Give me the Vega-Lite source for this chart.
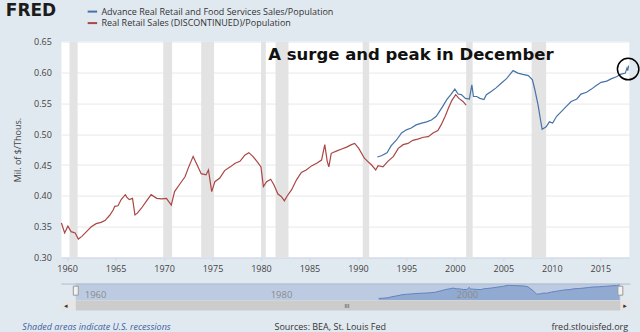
{
  "$schema": "https://vega.github.io/schema/vega-lite/v6.json",
  "background": "#e1e9f0",
  "padding": {"left": 5.4, "top": 1.6, "right": 0, "bottom": 0},
  "config": {"font": "Open Sans", "view": {"stroke": null}},
  "datasets": {
    "retail": [
      {"series":"rrs","date":"1959-06-01","value":0.356},
      {"series":"rrs","date":"1959-10-01","value":0.340},
      {"series":"rrs","date":"1960-02-01","value":0.351},
      {"series":"rrs","date":"1960-06-01","value":0.342},
      {"series":"rrs","date":"1960-11-01","value":0.340},
      {"series":"rrs","date":"1961-03-01","value":0.330},
      {"series":"rrs","date":"1961-07-01","value":0.334},
      {"series":"rrs","date":"1962-01-01","value":0.342},
      {"series":"rrs","date":"1962-07-01","value":0.350},
      {"series":"rrs","date":"1963-01-01","value":0.355},
      {"series":"rrs","date":"1963-07-01","value":0.357},
      {"series":"rrs","date":"1963-12-01","value":0.360},
      {"series":"rrs","date":"1964-06-01","value":0.369},
      {"series":"rrs","date":"1964-10-01","value":0.377},
      {"series":"rrs","date":"1964-12-01","value":0.383},
      {"series":"rrs","date":"1965-04-01","value":0.384},
      {"series":"rrs","date":"1965-08-01","value":0.394},
      {"series":"rrs","date":"1966-01-01","value":0.402},
      {"series":"rrs","date":"1966-03-01","value":0.398},
      {"series":"rrs","date":"1966-06-01","value":0.394},
      {"series":"rrs","date":"1966-10-01","value":0.396},
      {"series":"rrs","date":"1967-01-01","value":0.369},
      {"series":"rrs","date":"1967-04-01","value":0.372},
      {"series":"rrs","date":"1967-09-01","value":0.380},
      {"series":"rrs","date":"1968-03-01","value":0.391},
      {"series":"rrs","date":"1968-09-01","value":0.402},
      {"series":"rrs","date":"1969-04-01","value":0.396},
      {"series":"rrs","date":"1969-10-01","value":0.395},
      {"series":"rrs","date":"1970-04-01","value":0.396},
      {"series":"rrs","date":"1970-10-01","value":0.385},
      {"series":"rrs","date":"1971-02-01","value":0.407},
      {"series":"rrs","date":"1971-08-01","value":0.418},
      {"series":"rrs","date":"1972-03-01","value":0.431},
      {"series":"rrs","date":"1972-07-01","value":0.445},
      {"series":"rrs","date":"1973-01-01","value":0.464},
      {"series":"rrs","date":"1973-05-01","value":0.453},
      {"series":"rrs","date":"1973-11-01","value":0.436},
      {"series":"rrs","date":"1974-05-01","value":0.434},
      {"series":"rrs","date":"1974-08-01","value":0.442},
      {"series":"rrs","date":"1974-12-01","value":0.407},
      {"series":"rrs","date":"1975-04-01","value":0.423},
      {"series":"rrs","date":"1975-10-01","value":0.429},
      {"series":"rrs","date":"1976-04-01","value":0.441},
      {"series":"rrs","date":"1976-11-01","value":0.447},
      {"series":"rrs","date":"1977-05-01","value":0.453},
      {"series":"rrs","date":"1977-11-01","value":0.456},
      {"series":"rrs","date":"1978-05-01","value":0.466},
      {"series":"rrs","date":"1978-10-01","value":0.470},
      {"series":"rrs","date":"1979-03-01","value":0.464},
      {"series":"rrs","date":"1979-08-01","value":0.456},
      {"series":"rrs","date":"1980-01-01","value":0.447},
      {"series":"rrs","date":"1980-04-01","value":0.415},
      {"series":"rrs","date":"1980-08-01","value":0.423},
      {"series":"rrs","date":"1981-01-01","value":0.427},
      {"series":"rrs","date":"1981-05-01","value":0.418},
      {"series":"rrs","date":"1981-10-01","value":0.403},
      {"series":"rrs","date":"1982-02-01","value":0.399},
      {"series":"rrs","date":"1982-06-01","value":0.392},
      {"series":"rrs","date":"1982-09-01","value":0.399},
      {"series":"rrs","date":"1983-03-01","value":0.410},
      {"series":"rrs","date":"1983-09-01","value":0.426},
      {"series":"rrs","date":"1984-03-01","value":0.438},
      {"series":"rrs","date":"1984-09-01","value":0.442},
      {"series":"rrs","date":"1985-04-01","value":0.449},
      {"series":"rrs","date":"1985-10-01","value":0.453},
      {"series":"rrs","date":"1986-04-01","value":0.458},
      {"series":"rrs","date":"1986-08-01","value":0.483},
      {"series":"rrs","date":"1986-11-01","value":0.456},
      {"series":"rrs","date":"1987-01-01","value":0.447},
      {"series":"rrs","date":"1987-04-01","value":0.469},
      {"series":"rrs","date":"1987-11-01","value":0.473},
      {"series":"rrs","date":"1988-05-01","value":0.476},
      {"series":"rrs","date":"1988-11-01","value":0.479},
      {"series":"rrs","date":"1989-05-01","value":0.483},
      {"series":"rrs","date":"1989-09-01","value":0.485},
      {"series":"rrs","date":"1990-02-01","value":0.477},
      {"series":"rrs","date":"1990-09-01","value":0.461},
      {"series":"rrs","date":"1991-01-01","value":0.456},
      {"series":"rrs","date":"1991-06-01","value":0.450},
      {"series":"rrs","date":"1991-11-01","value":0.442},
      {"series":"rrs","date":"1992-02-01","value":0.449},
      {"series":"rrs","date":"1992-08-01","value":0.447},
      {"series":"rrs","date":"1993-02-01","value":0.456},
      {"series":"rrs","date":"1993-09-01","value":0.464},
      {"series":"rrs","date":"1994-03-01","value":0.477},
      {"series":"rrs","date":"1994-09-01","value":0.483},
      {"series":"rrs","date":"1995-03-01","value":0.485},
      {"series":"rrs","date":"1995-09-01","value":0.490},
      {"series":"rrs","date":"1996-03-01","value":0.492},
      {"series":"rrs","date":"1996-10-01","value":0.495},
      {"series":"rrs","date":"1997-04-01","value":0.496},
      {"series":"rrs","date":"1997-10-01","value":0.502},
      {"series":"rrs","date":"1998-04-01","value":0.506},
      {"series":"rrs","date":"1998-08-01","value":0.515},
      {"series":"rrs","date":"1999-01-01","value":0.529},
      {"series":"rrs","date":"1999-05-01","value":0.542},
      {"series":"rrs","date":"1999-09-01","value":0.554},
      {"series":"rrs","date":"2000-02-01","value":0.564},
      {"series":"rrs","date":"2000-06-01","value":0.558},
      {"series":"rrs","date":"2000-11-01","value":0.553},
      {"series":"rrs","date":"2001-03-01","value":0.547},
      {"series":"adv","date":"1992-01-01","value":0.463},
      {"series":"adv","date":"1992-06-01","value":0.465},
      {"series":"adv","date":"1993-01-01","value":0.470},
      {"series":"adv","date":"1993-06-01","value":0.481},
      {"series":"adv","date":"1994-01-01","value":0.491},
      {"series":"adv","date":"1994-07-01","value":0.502},
      {"series":"adv","date":"1995-01-01","value":0.507},
      {"series":"adv","date":"1995-07-01","value":0.510},
      {"series":"adv","date":"1996-01-01","value":0.515},
      {"series":"adv","date":"1996-08-01","value":0.518},
      {"series":"adv","date":"1997-02-01","value":0.520},
      {"series":"adv","date":"1997-08-01","value":0.523},
      {"series":"adv","date":"1998-02-01","value":0.529},
      {"series":"adv","date":"1998-06-01","value":0.537},
      {"series":"adv","date":"1998-10-01","value":0.545},
      {"series":"adv","date":"1999-03-01","value":0.556},
      {"series":"adv","date":"1999-08-01","value":0.564},
      {"series":"adv","date":"2000-01-01","value":0.573},
      {"series":"adv","date":"2000-05-01","value":0.565},
      {"series":"adv","date":"2000-09-01","value":0.564},
      {"series":"adv","date":"2001-02-01","value":0.558},
      {"series":"adv","date":"2001-07-01","value":0.557},
      {"series":"adv","date":"2001-10-01","value":0.580},
      {"series":"adv","date":"2001-12-01","value":0.561},
      {"series":"adv","date":"2002-04-01","value":0.561},
      {"series":"adv","date":"2002-08-01","value":0.558},
      {"series":"adv","date":"2003-01-01","value":0.556},
      {"series":"adv","date":"2003-04-01","value":0.564},
      {"series":"adv","date":"2003-10-01","value":0.569},
      {"series":"adv","date":"2004-04-01","value":0.575},
      {"series":"adv","date":"2004-10-01","value":0.582},
      {"series":"adv","date":"2005-05-01","value":0.590},
      {"series":"adv","date":"2006-01-01","value":0.603},
      {"series":"adv","date":"2006-07-01","value":0.599},
      {"series":"adv","date":"2007-01-01","value":0.597},
      {"series":"adv","date":"2007-08-01","value":0.595},
      {"series":"adv","date":"2008-01-01","value":0.588},
      {"series":"adv","date":"2008-04-01","value":0.572},
      {"series":"adv","date":"2008-08-01","value":0.547},
      {"series":"adv","date":"2008-11-01","value":0.523},
      {"series":"adv","date":"2009-01-01","value":0.508},
      {"series":"adv","date":"2009-06-01","value":0.512},
      {"series":"adv","date":"2009-10-01","value":0.520},
      {"series":"adv","date":"2010-02-01","value":0.518},
      {"series":"adv","date":"2010-07-01","value":0.529},
      {"series":"adv","date":"2011-01-01","value":0.537},
      {"series":"adv","date":"2011-07-01","value":0.545},
      {"series":"adv","date":"2012-01-01","value":0.553},
      {"series":"adv","date":"2012-08-01","value":0.557},
      {"series":"adv","date":"2013-01-01","value":0.565},
      {"series":"adv","date":"2013-08-01","value":0.568},
      {"series":"adv","date":"2014-02-01","value":0.573},
      {"series":"adv","date":"2014-08-01","value":0.579},
      {"series":"adv","date":"2015-02-01","value":0.584},
      {"series":"adv","date":"2015-09-01","value":0.586},
      {"series":"adv","date":"2016-03-01","value":0.590},
      {"series":"adv","date":"2016-09-01","value":0.593},
      {"series":"adv","date":"2017-02-01","value":0.597},
      {"series":"adv","date":"2017-08-01","value":0.599},
      {"series":"adv","date":"2017-10-01","value":0.607},
      {"series":"adv","date":"2017-11-01","value":0.603},
      {"series":"adv","date":"2017-12-01","value":0.611}
    ]
  },
  "spacing": 8,
  "vconcat": [
    {
      "width": 568,
      "height": 216,
      "view": {"fill": "#ffffff", "stroke": null},
      "title": {"text": "FRED", "anchor": "start", "frame": "group", "orient": "top", "dx": -55.6, "offset": 4.2, "baseline": "alphabetic", "font": "DejaVu Sans", "fontSize": 17, "fontWeight": "bold", "color": "#1c1c1c"},
      "layer": [
        {
          "data": {"values": [
            {"start": "1960-04-01", "end": "1961-02-01"},
            {"start": "1969-12-01", "end": "1970-11-01"},
            {"start": "1973-11-01", "end": "1975-03-01"},
            {"start": "1980-01-01", "end": "1980-07-01"},
            {"start": "1981-07-01", "end": "1982-11-01"},
            {"start": "1990-07-01", "end": "1991-03-01"},
            {"start": "2001-03-01", "end": "2001-11-01"},
            {"start": "2007-12-01", "end": "2009-06-01"}
          ]},
          "mark": {"type": "rect", "color": "#e3e3e3"},
          "encoding": {
            "x": {"field": "start", "type": "temporal",
                  "scale": {"domain": [{"year": 1959, "month": 6, "date": 1}, {"year": 2018, "month": 1, "date": 1}]},
                  "axis": {"values": [{"year":1960},{"year":1965},{"year":1970},{"year":1975},{"year":1980},{"year":1985},{"year":1990},{"year":1995},{"year":2000},{"year":2005},{"year":2010},{"year":2015}],
                           "format": "%Y", "title": null, "grid": false, "domain": true, "domainColor": "#ccd6eb",
                           "tickColor": "#ccd6eb", "tickSize": 3, "labelPadding": 4, "labelFontSize": 9, "labelColor": "#444444"}},
            "x2": {"field": "end"}
          }
        },
        {
          "data": {"name": "retail"},
          "mark": {"type": "line", "strokeWidth": 1.2},
          "encoding": {
            "x": {"field": "date", "type": "temporal"},
            "y": {"field": "value", "type": "quantitative",
                  "scale": {"domain": [0.3, 0.65], "zero": false},
                  "axis": {"values": [0.3, 0.35, 0.4, 0.45, 0.5, 0.55, 0.6, 0.65], "format": ".2f", "labelOverlap": false,
                           "grid": true, "gridColor": "#e8e8e8", "domain": false, "ticks": false,
                           "labelPadding": 10, "labelFontSize": 9, "labelColor": "#444444",
                           "title": "Mil. of $/Thous.", "titleFontSize": 9, "titleFontWeight": "normal",
                           "titleColor": "#444444", "titlePadding": 11}},
            "color": {"field": "series", "type": "nominal",
                      "scale": {"domain": ["adv", "rrs"], "range": ["#4572a7", "#aa4643"]},
                      "legend": {"orient": "none", "legendX": 25, "legendY": -36, "title": null,
                                 "symbolType": "stroke", "symbolStrokeWidth": 2, "symbolSize": 90,
                                 "labelFontSize": 9, "labelColor": "#333333", "labelLimit": 400,
                                 "labelOffset": 3, "rowPadding": 0.5, "padding": 0,
                                 "labelExpr": "datum.label == 'adv' ? 'Advance Real Retail and Food Services Sales/Population' : 'Real Retail Sales (DISCONTINUED)/Population'"}}
          }
        },
        {
          "data": {"values": [{"label": "A surge and peak in December"}]},
          "mark": {"type": "text", "align": "left", "baseline": "middle", "font": "DejaVu Sans", "fontSize": 16.5, "fontWeight": "bold", "color": "#111111"},
          "encoding": {
            "text": {"field": "label"},
            "x": {"datum": {"year": 1980, "month": 10, "date": 1}, "type": "temporal"},
            "y": {"datum": 0.628, "type": "quantitative",
                  "axis": {"values": [0.3, 0.35, 0.4, 0.45, 0.5, 0.55, 0.6, 0.65], "format": ".2f", "labelOverlap": false,
                           "grid": true, "gridColor": "#e8e8e8", "domain": false, "ticks": false,
                           "labelPadding": 10, "labelFontSize": 9, "labelColor": "#444444",
                           "title": "Mil. of $/Thous.", "titleFontSize": 9, "titleFontWeight": "normal",
                           "titleColor": "#444444", "titlePadding": 11}}
          }
        },
        {
          "data": {"values": [{"note": "peak"}]},
          "mark": {"type": "point", "shape": "circle", "filled": false, "stroke": "#000000", "strokeWidth": 1.5, "size": 460, "opacity": 1},
          "encoding": {
            "x": {"datum": {"year": 2017, "month": 11, "date": 15}, "type": "temporal"},
            "y": {"datum": 0.6055, "type": "quantitative",
                  "axis": {"values": [0.3, 0.35, 0.4, 0.45, 0.5, 0.55, 0.6, 0.65], "format": ".2f", "labelOverlap": false,
                           "grid": true, "gridColor": "#e8e8e8", "domain": false, "ticks": false,
                           "labelPadding": 10, "labelFontSize": 9, "labelColor": "#444444",
                           "title": "Mil. of $/Thous.", "titleFontSize": 9, "titleFontWeight": "normal",
                           "titleColor": "#444444", "titlePadding": 11}}
          }
        }
      ]
    },
    {
      "spacing": 11,
      "vconcat": [
        {
          "spacing": 0,
          "vconcat": [
            {
              "width": 569,
              "height": 17,
              "view": {"fill": null, "stroke": null},
              "layer": [
                {
                  "data": {"values": [{"from": "1959-06-01", "to": "2018-01-01"}]},
                  "mark": {"type": "rect", "color": "#bccbe2"},
                  "encoding": {
                    "x": {"field": "from", "type": "temporal",
                          "scale": {"domain": [{"year": 1957, "month": 11, "date": 13}, {"year": 2019, "month": 1, "date": 30}]},
                          "axis": {"values": [{"year":1960},{"year":1980},{"year":2000}], "format": "%Y", "zindex": 2,
                                   "labelAlign": "left", "labelBaseline": "middle", "labelOffset": 3, "labelPadding": -6,
                                   "ticks": false, "tickSize": 0, "domain": false, "grid": false, "labelColor": "#8c8c8c",
                                   "labelFontSize": 9.5, "title": null}},
                    "x2": {"field": "to"}
                  }
                },
                {
                  "data": {"name": "retail"},
                  "transform": [{"filter": {"field": "series", "equal": "adv"}}],
                  "mark": {"type": "area", "color": "#7f9bcb", "line": {"color": "#6282bd", "strokeWidth": 1}},
                  "encoding": {
                    "x": {"field": "date", "type": "temporal"},
                    "y": {"field": "value", "type": "quantitative", "scale": {"domain": [0.445, 0.615], "zero": false}, "axis": null},
                    "y2": {"datum": 0.445}
                  }
                },
                {
                  "data": {"values": [{"edge": "top"}]},
                  "mark": {"type": "rule", "color": "#b3bccb", "strokeWidth": 1},
                  "encoding": {"y": {"datum": 0.615, "type": "quantitative"}}
                },
                {
                  "data": {"values": [{"from": "1959-06-01", "to": "2018-01-01"}]},
                  "mark": {"type": "point", "shape": "M -0.55 -1 H 0.55 V 1 H -0.55 Z", "size": 81, "filled": true, "fill": "#f2f2f2", "stroke": "#999999", "strokeWidth": 1, "opacity": 1},
                  "encoding": {
                    "x": {"field": "from", "type": "temporal"},
                    "y": {"datum": 0.545, "type": "quantitative"}
                  }
                },
                {
                  "data": {"values": [{"from": "1959-06-01", "to": "2018-01-01"}]},
                  "mark": {"type": "point", "shape": "M -0.55 -1 H 0.55 V 1 H -0.55 Z", "size": 81, "filled": true, "fill": "#f2f2f2", "stroke": "#999999", "strokeWidth": 1, "opacity": 1},
                  "encoding": {
                    "x": {"field": "to", "type": "temporal"},
                    "y": {"datum": 0.545, "type": "quantitative"}
                  }
                }
              ]
            },
            {
              "width": 569,
              "height": 10,
              "view": {"fill": "#e6e6e6", "stroke": null},
              "layer": [
                {
                  "data": {"values": [{"from": "1959-06-01", "to": "2018-01-01"}]},
                  "mark": {"type": "rect", "color": "#cccccc"},
                  "encoding": {
                    "x": {"field": "from", "type": "temporal",
                          "scale": {"domain": [{"year": 1957, "month": 11, "date": 13}, {"year": 2019, "month": 1, "date": 30}]},
                          "axis": null},
                    "x2": {"field": "to"}
                  }
                },
                {
                  "data": {"values": [{"grip": "III"}]},
                  "mark": {"type": "text", "fontSize": 6, "color": "#333333", "baseline": "middle"},
                  "encoding": {
                    "text": {"field": "grip"},
                    "x": {"datum": {"year": 1988, "month": 8, "date": 1}, "type": "temporal", "axis": null}
                  }
                },
                {
                  "data": {"values": [{"arrow": "◂"}]},
                  "mark": {"type": "text", "fontSize": 7, "color": "#333333", "baseline": "middle", "font": "DejaVu Sans"},
                  "encoding": {
                    "text": {"field": "arrow"},
                    "x": {"datum": {"year": 1958, "month": 5, "date": 1}, "type": "temporal", "axis": null}
                  }
                },
                {
                  "data": {"values": [{"arrow": "▸"}]},
                  "mark": {"type": "text", "fontSize": 7, "color": "#333333", "baseline": "middle", "font": "DejaVu Sans"},
                  "encoding": {
                    "text": {"field": "arrow"},
                    "x": {"datum": {"year": 2018, "month": 7, "date": 1}, "type": "temporal", "axis": null}
                  }
                }
              ]
            }
          ]
        },
        {
          "width": 569,
          "height": 10,
          "view": {"fill": null, "stroke": null},
          "layer": [
            {
              "data": {"values": [{"note": "Shaded areas indicate U.S. recessions"}]},
              "mark": {"type": "text", "align": "left", "baseline": "middle", "fontStyle": "italic", "fontSize": 9, "color": "#3d5f9c"},
              "encoding": {
                "text": {"field": "note"},
                "x": {"datum": {"year": 1953, "month": 9, "date": 1}, "type": "temporal",
                      "scale": {"domain": [{"year": 1957, "month": 11, "date": 13}, {"year": 2019, "month": 1, "date": 30}]}, "axis": null}
              }
            },
            {
              "data": {"values": [{"note": "Sources: BEA, St. Louis Fed"}]},
              "mark": {"type": "text", "align": "center", "baseline": "middle", "fontSize": 9, "color": "#333333"},
              "encoding": {
                "text": {"field": "note"},
                "x": {"datum": {"year": 1986, "month": 10, "date": 15}, "type": "temporal", "axis": null}
              }
            },
            {
              "data": {"values": [{"note": "fred.stlouisfed.org"}]},
              "mark": {"type": "text", "align": "right", "baseline": "middle", "fontSize": 9, "color": "#333333"},
              "encoding": {
                "text": {"field": "note"},
                "x": {"datum": {"year": 2018, "month": 11, "date": 1}, "type": "temporal", "axis": null}
              }
            }
          ]
        }
      ]
    }
  ]
}
